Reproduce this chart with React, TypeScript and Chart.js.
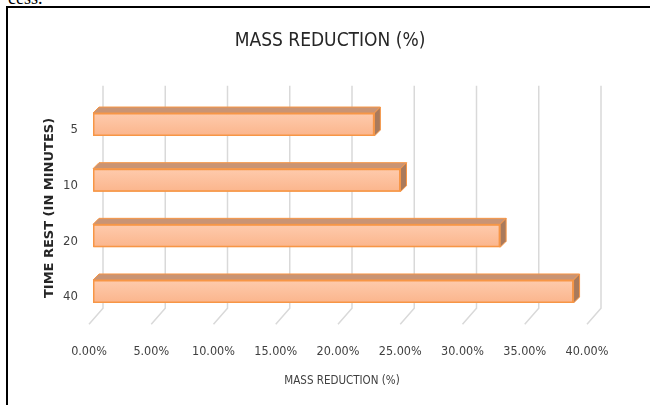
import React, { useEffect, useRef } from 'react';
import { Chart, registerables } from 'chart.js';

Chart.register(...registerables);

// ---- data ----
const categories = ['5', '10', '20', '40'];
const massReduction = [22.6, 24.7, 32.7, 38.6];
const xMin = 0;
const xMax = 40;
const xStep = 5;
const chartTitle = 'MASS REDUCTION (%)';
const xAxisTitle = 'MASS REDUCTION (%)';
const yAxisTitle = 'TIME REST (IN MINUTES)';

// ---- style constants ----
const NARROW = "'Liberation Sans Narrow', 'DejaVu Sans Condensed', 'Roboto Condensed', 'Liberation Sans', sans-serif";
const BAR_PCT = 0.413;
const DEPTH = 6;
const BACK_DX = 10;
const BACK_DY = -11;
const FLOOR_DX = -4;
const FLOOR_DY = 5;

const threeDPlugin = {
  id: 'threeD',
  beforeDatasetsDraw(chart: any) {
    const { ctx, chartArea, scales } = chart;
    const xs = scales.x;
    ctx.save();
    ctx.strokeStyle = '#d9d9d9';
    ctx.lineWidth = 1.5;
    xs.ticks.forEach((t: any) => {
      const px = xs.getPixelForValue(t.value);
      ctx.beginPath();
      ctx.moveTo(px + BACK_DX, chartArea.top + BACK_DY);
      ctx.lineTo(px + BACK_DX, chartArea.bottom + BACK_DY);
      ctx.lineTo(px + FLOOR_DX, chartArea.bottom + FLOOR_DY);
      ctx.stroke();
    });
    ctx.restore();
  },
  afterDatasetsDraw(chart: any) {
    const { ctx } = chart;
    const meta = chart.getDatasetMeta(0);
    ctx.save();
    ctx.lineWidth = 1;
    ctx.strokeStyle = '#f79646';
    ctx.lineJoin = 'round';
    meta.data.forEach((bar: any) => {
      const { x, y, base, height } = bar.getProps(['x', 'y', 'base', 'height'], true);
      const top = y - height / 2;
      const bottom = y + height / 2;
      // front gradient overlay
      const g = ctx.createLinearGradient(0, top, 0, bottom);
      g.addColorStop(0, '#fecbad');
      g.addColorStop(1, '#fbb58c');
      ctx.fillStyle = g;
      ctx.fillRect(base + 1, top + 1, x - base - 2, height - 2);
      // top cap
      ctx.beginPath();
      ctx.moveTo(base, top);
      ctx.lineTo(x, top);
      ctx.lineTo(x + DEPTH, top - DEPTH);
      ctx.lineTo(base + DEPTH, top - DEPTH);
      ctx.closePath();
      ctx.fillStyle = '#c99474';
      ctx.fill();
      ctx.stroke();
      // right side
      ctx.beginPath();
      ctx.moveTo(x, top);
      ctx.lineTo(x + DEPTH, top - DEPTH);
      ctx.lineTo(x + DEPTH, bottom - DEPTH);
      ctx.lineTo(x, bottom);
      ctx.closePath();
      ctx.fillStyle = '#a97a5c';
      ctx.fill();
      ctx.stroke();
      // front border
      ctx.lineWidth = 1.5;
      ctx.strokeRect(base + 0.75, top + 0.75, x - base - 1.5, height - 1.5);
      ctx.lineWidth = 1;
    });
    ctx.restore();
  },
  afterDraw(chart: any) {
    const { ctx } = chart;
    ctx.save();
    ctx.font = `19px ${NARROW}`;
    ctx.fillStyle = '#262626';
    ctx.textAlign = 'center';
    ctx.textBaseline = 'middle';
    ctx.fillText(chartTitle, 330, 41);
    ctx.restore();
  },
};

export default function App() {
  const ref = useRef<HTMLCanvasElement>(null);

  useEffect(() => {
    if (!ref.current) return;
    const chart = new Chart(ref.current, {
      type: 'bar',
      data: {
        labels: categories,
        datasets: [
          {
            label: chartTitle,
            data: massReduction,
            backgroundColor: '#fcbf9b',
            borderColor: '#f79646',
            borderWidth: 1.5,
            borderSkipped: false,
            categoryPercentage: 1,
            barPercentage: BAR_PCT,
          },
        ],
      },
      options: {
        indexAxis: 'y',
        responsive: false,
        animation: false,
        layout: { padding: { top: 96.7, right: 59, bottom: 0, left: 0 } },
        plugins: {
          legend: { display: false },
          title: { display: false },
          tooltip: { enabled: false },
        },
        scales: {
          x: {
            type: 'linear',
            min: xMin,
            max: xMax,
            grid: { display: false, drawTicks: false },
            border: { display: false },
            ticks: {
              stepSize: xStep,
              padding: 25,
              labelOffset: FLOOR_DX,
              color: '#404040',
              font: { family: NARROW, size: 12.5 },
              callback: (v: any) => Number(v).toFixed(2) + '%',
            },
            title: {
              display: true,
              text: xAxisTitle,
              color: '#404040',
              font: { family: NARROW, size: 11.5, lineHeight: 1.2 },
              padding: { top: 0, bottom: 17 },
            },
            afterFit: (s: any) => {
              s.height = 85.7;
            },
          },
          y: {
            type: 'category',
            offset: true,
            grid: { display: false, drawTicks: false },
            border: { display: false },
            ticks: {
              padding: 15,
              labelOffset: 5.5,
              color: '#404040',
              font: { family: NARROW, size: 13 },
            },
            title: {
              display: true,
              text: yAxisTitle,
              color: '#262626',
              font: { family: "'DejaVu Sans', sans-serif", size: 13, weight: 'bold', lineHeight: 1.2 },
              padding: { top: 42.2, bottom: 0 },
            },
            afterFit: (s: any) => {
              s.width = 93;
            },
          },
        },
      },
      plugins: [threeDPlugin],
    });
    return () => chart.destroy();
  }, []);

  return (
    <div style={{ position: 'absolute', left: 0, top: 0, width: 650, height: 405, overflow: 'hidden', background: '#fff' }}>
      <div
        style={{
          position: 'absolute',
          left: 8,
          top: -12,
          fontFamily: "'Liberation Serif', serif",
          fontSize: 18,
          lineHeight: '20px',
          color: '#000',
          whiteSpace: 'nowrap',
        }}
      >
        cess.
      </div>
      <div
        style={{
          position: 'absolute',
          left: 6,
          top: 6,
          width: 660,
          height: 420,
          borderLeft: '2px solid #000',
          borderTop: '2px solid #000',
        }}
      />
      <canvas ref={ref} width={650} height={405} style={{ position: 'absolute', left: 0, top: 0 }} />
    </div>
  );
}
